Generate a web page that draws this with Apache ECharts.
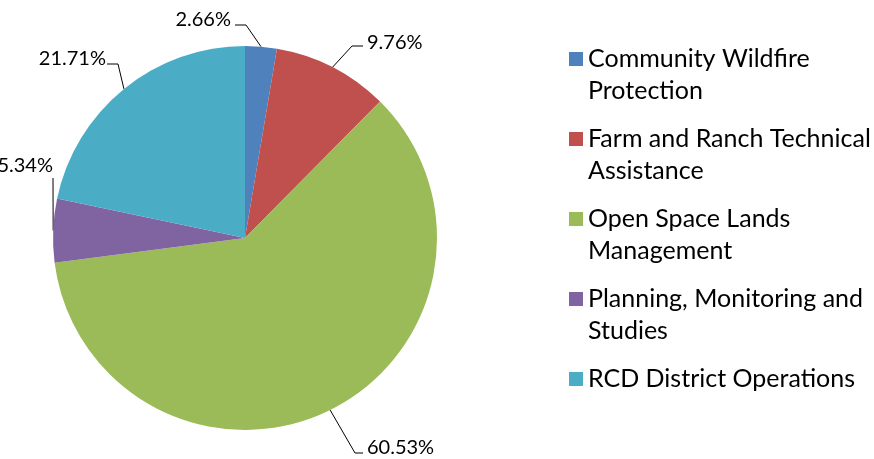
<!DOCTYPE html>
<html>
<head>
<meta charset="utf-8">
<title>RCD Program Expenditures</title>
<script src="https://cdn.jsdelivr.net/npm/echarts@6/dist/echarts.min.js"></script>
<style>
html, body { margin: 0; padding: 0; background: #fff; }
#main { width: 874px; height: 459px; }
</style>
</head>
<body>
<div id="main"></div>
<script>
// 数据
var categories = ['Community Wildfire Protection', 'Farm and Ranch Technical Assistance', 'Open Space Lands Management', 'Planning, Monitoring and Studies', 'RCD District Operations'];
var legendLines = [['Community Wildfire', 'Protection'], ['Farm and Ranch Technical', 'Assistance'], ['Open Space Lands', 'Management'], ['Planning, Monitoring and', 'Studies'], ['RCD District Operations', '']];
var shares = [2.66, 9.76, 60.53, 5.34, 21.71];
var colors = ['#4F81BD', '#C0504D', '#9BBB59', '#8064A2', '#4BACC6'];

// 外部标签的位置和引导线拐点
var labelPos = [
    {x: 231, y: 20, align: 'right', bend: [246, 25], end: [235, 25]},
    {x: 367, y: 43, align: 'left', bend: [352, 46], end: [363, 46]},
    {x: 367, y: 448, align: 'left', bend: [355, 453], end: [363, 453]},
    {x: 53, y: 166, align: 'right', bend: null, end: [53, 178]},
    {x: 106, y: 59, align: 'right', bend: [118, 64], end: [107, 64]}
];

var myChart = echarts.init(document.getElementById('main'));

var pieData = categories.map(function (name, i) {
    return {name: name, value: shares[i]};
});

option = {
    color: colors,
    animation: false,
    legend: {
        orient: 'vertical',
        left: 569,
        top: 11,
        padding: 0,
        itemWidth: 14,
        itemHeight: 14,
        itemGap: -16,
        icon: 'rect',
        data: categories,
        textStyle: {
            fontFamily: 'Lato',
            fontSize: 25,
            lineHeight: 32,
            color: '#000'
        },
        // 前面加一个空行，让第一行和色块对齐
        formatter: function (name) {
            return '\n' + legendLines[categories.indexOf(name)].join('\n');
        }
    },
    series: [
        {
            type: 'pie',
            center: [245, 238],
            radius: 192,
            startAngle: 90,
            clockwise: true,
            data: pieData,
            label: {
                show: true,
                position: 'outside',
                formatter: function (p) {
                    return p.value.toFixed(2) + '%';
                },
                width: 90,
                overflow: 'none',
                fontFamily: 'Lato',
                fontSize: 20,
                color: '#000'
            },
            labelLine: {
                show: true,
                length: 20,
                length2: 10,
                lineStyle: {color: '#000', width: 1}
            },
            labelLayout: function (params) {
                var p = labelPos[params.dataIndex];
                var pts = [];
                if (params.labelLinePoints) {
                    pts.push(params.labelLinePoints[0].slice());
                }
                if (p.bend) pts.push(p.bend);
                pts.push(p.end);
                return {
                    x: p.x,
                    y: p.y,
                    align: p.align,
                    verticalAlign: 'middle',
                    labelLinePoints: pts
                };
            },
            itemStyle: {borderWidth: 0},
            emphasis: {disabled: true}
        }
    ]
};
myChart.setOption(option);
</script>
</body>
</html>
